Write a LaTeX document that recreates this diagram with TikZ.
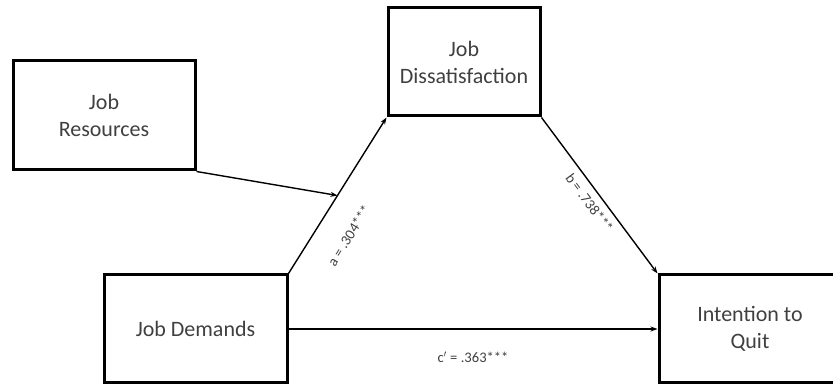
\documentclass[tikz,border=0pt]{standalone}
\usepackage{fontspec}
\setmainfont{Carlito}
\usetikzlibrary{arrows.meta,positioning}
\definecolor{txtgray}{RGB}{64,64,64}

\begin{document}
\begin{tikzpicture}[x=1pt, y=1pt,
      box/.style={draw=black, line width=3pt, align=center, text=txtgray,
        font=\fontsize{22}{27}\selectfont, inner sep=0pt},
      lab/.style={font=\fontsize{14.6}{17}\selectfont, text=txtgray, inner sep=0pt},
      path/.style={line width=1.4pt, -{Stealth[length=7pt,width=5pt]}}]
    \clip (0,0) rectangle (833,385);
    \node[box, minimum width=182pt, minimum height=109pt] (res) at (104,269.5) {Job\\Resources};
    \node[box, minimum width=152pt, minimum height=108pt] (dis) at (464,323) {Job\\Dissatisfaction};
    \node[box, minimum width=183pt, minimum height=108pt] (dem) at (195.5,56) {Job Demands};
    \node[box, minimum width=182pt, minimum height=108pt] (quit) at (750,56) {Intention to\\Quit};
    % mediation paths
    \draw[path] (dem.north east) -- coordinate[midway] (mod)
      node[lab, sloped, pos=0.35, below=25pt] {a = .304***} (dis.south west);
    \draw[path] (dis.south east) --
      node[lab, sloped, pos=0.5, below=6.5pt] {b = .738***} (quit.north west);
    \draw[path] (dem.east) --
      node[lab, midway, below=22pt] {c$'$ = .363***} (quit.west);
    % moderator
    \draw[path] (res.south east) -- (mod);
  \end{tikzpicture}
\end{document}
